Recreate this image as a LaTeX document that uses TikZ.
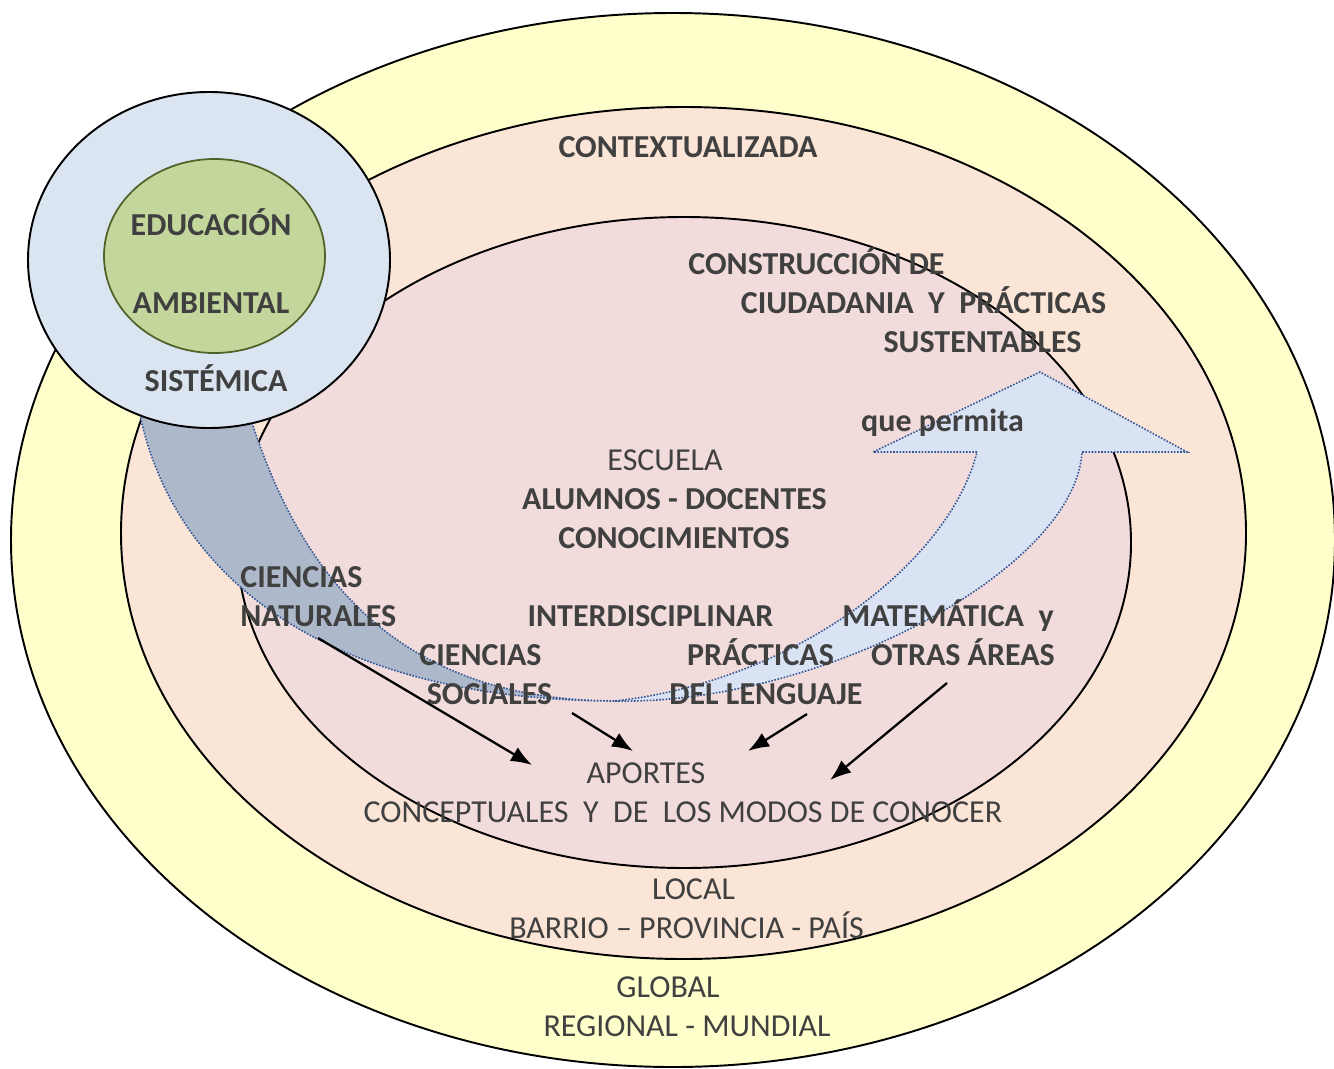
\documentclass[tikz,border=0pt]{standalone}
\usepackage{fontspec}
\setmainfont{Carlito}
\usetikzlibrary{arrows.meta}
\definecolor{txtgray}{HTML}{404040}
\definecolor{globalfill}{HTML}{FFFFCC}
\definecolor{localfill}{HTML}{FBE5D6}
\definecolor{schoolfill}{HTML}{F2DCDB}
\definecolor{sysfill}{HTML}{DBE5F1}
\definecolor{edufill}{HTML}{C3D69B}
\definecolor{eduline}{HTML}{4F6228}
\definecolor{bandback}{HTML}{ADB9CA}
\definecolor{bandfront}{HTML}{DAE3F3}
\definecolor{bandline}{HTML}{2F5597}

\begin{document}
\begin{tikzpicture}[x=0.02cm,y=-0.02cm,>={Latex[length=12pt,width=9pt]},
    lbl/.style={text=txtgray,inner sep=0pt,anchor=base,font=\fontsize{18.2}{22}\selectfont},
    lblb/.style={lbl,font=\fontsize{18.2}{22}\selectfont\bfseries},
    ring/.style={draw=black,line width=1.1pt},
    band/.style={draw=bandline,line width=0.9pt,dash pattern=on 0.9pt off 0.9pt},
    link/.style={->,line width=1.3pt}]
  \useasboundingbox (0,0) rectangle (1334,1068);

  % rings
  \path[ring,fill=globalfill] (673,540) ellipse [x radius=662,y radius=527];
  \path[ring,fill=localfill] (683.5,533) ellipse [x radius=562.5,y radius=426];
  \path[ring,fill=schoolfill] (684,542.5) ellipse [x radius=447,y radius=325.5];

  % curved arrow
  \path[band,fill=bandback] (138,405) .. controls (170,580) and (330,700) .. (615,701)
    .. controls (400,700) and (300,580) .. (248,410) -- cycle;
  \path[band,fill=bandfront] (615,701) .. controls (820,705) and (1075,570) .. (1082,452)
    -- (1187,452) -- (1040,372) -- (873,452) -- (977,452)
    .. controls (950,560) and (800,680) .. (615,701) -- cycle;

  % sistemica
  \path[ring,fill=sysfill] (209,260) ellipse [x radius=181,y radius=168];
  \path[draw=eduline,line width=1pt,fill=edufill] (214.5,256) ellipse [x radius=110.5,y radius=97];

  \node[lblb] (edu) at (211,235) {EDUCACIÓN};
  \node[lblb] (amb) at (211,313) {AMBIENTAL};
  \node[lblb] (sis) at (216,391) {SISTÉMICA};

  \node[lblb] (ctx) at (688,157) {CONTEXTUALIZADA};
  \node[lblb] (cons1) at (816.5,274) {CONSTRUCCIÓN DE};
  \node[lblb] (cons2) at (923.5,313) {CIUDADANIA\ \ Y\ \ PRÁCTICAS};
  \node[lblb] (cons3) at (982.5,352) {SUSTENTABLES};
  \node[lblb] (perm) at (942.5,431) {que permita};

  \node[lbl] (esc) at (665,470) {ESCUELA};
  \node[lblb] (alu) at (674.5,509) {ALUMNOS - DOCENTES};
  \node[lblb] (cono) at (674,548) {CONOCIMIENTOS};

  \node[lblb,anchor=base west] (nat1) at (240,587) {CIENCIAS};
  \node[lblb,anchor=base west] (nat2) at (240,626) {NATURALES};
  \node[lblb] (inter) at (650.5,626) {INTERDISCIPLINAR};
  \node[lblb] (mat1) at (948,626) {MATEMÁTICA\ \ y};
  \node[lblb] (soc1) at (480.5,665) {CIENCIAS};
  \node[lblb] (soc2) at (489.5,704) {SOCIALES};
  \node[lblb] (len1) at (760.5,665) {PRÁCTICAS};
  \node[lblb] (len2) at (766,704) {DEL LENGUAJE};
  \node[lblb] (mat2) at (963,665) {OTRAS ÁREAS};

  \node[lbl] (apo1) at (646,783) {APORTES};
  \node[lbl] (apo2) at (683,822) {CONCEPTUALES\ \ Y\ \ DE\ \ LOS MODOS DE CONOCER};
  \node[lbl] (loc1) at (693.5,899) {LOCAL};
  \node[lbl] (loc2) at (686.5,938) {BARRIO – PROVINCIA - PAÍS};
  \node[lbl] (glo1) at (668,997) {GLOBAL};
  \node[lbl] (glo2) at (687,1036) {REGIONAL - MUNDIAL};

  % aportes
  \coordinate (natout) at (318,638);
  \coordinate (socout) at (572,713);
  \coordinate (lenout) at (807,714);
  \coordinate (matout) at (947,683);
  \coordinate (apoa) at (532,765);
  \coordinate (apob) at (633,751);
  \coordinate (apoc) at (748,751);
  \coordinate (apod) at (830,780);
  \draw[link] (natout) -- (apoa);
  \draw[link] (socout) -- (apob);
  \draw[link] (lenout) -- (apoc);
  \draw[link] (matout) -- (apod);
\end{tikzpicture}
\end{document}
